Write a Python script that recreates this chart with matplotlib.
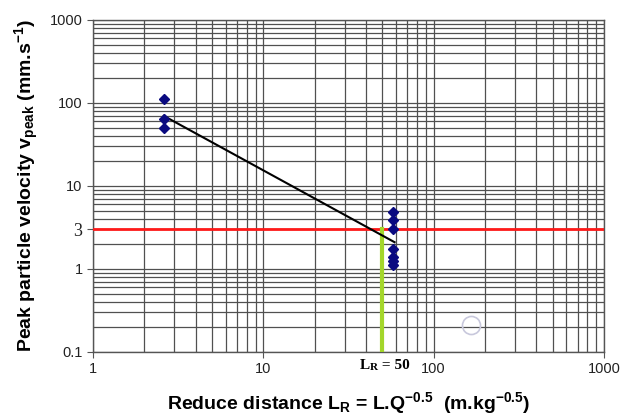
from matplotlib import pyplot as plt
from matplotlib.ticker import FixedLocator, NullFormatter, LogLocator
import numpy as np

plt.rcParams['mathtext.fontset'] = 'custom'
plt.rcParams['mathtext.rm'] = 'Liberation Sans:bold'
plt.rcParams['mathtext.bf'] = 'Liberation Sans:bold'
plt.rcParams['mathtext.it'] = 'Liberation Sans:bold'

near_x = [2.6, 2.6, 2.6]
near_y = [112, 64, 50]
far_x = [58, 58, 58, 58, 58, 58, 58]
far_y = [4.8, 3.9, 3.0, 1.75, 1.4, 1.25, 1.12]

# fitted line end points
fit_x = [2.6, 59]
fit_y = [70, 2.1]

v_limit = 3
lr_limit = 50

y_ticks = [0.1, 1, 3, 10, 100, 1000]
y_labels = ['0.1', '1', '3', '10', '100', '1000']
x_ticks = [1, 10, 100, 1000]
x_labels = ['1', '10', '100', '1000']

fig = plt.figure(figsize=(6.2, 4.16), dpi=100)
ax = fig.add_axes([0.15, 0.154, 0.824, 0.798])
ax.set_xscale('log')
ax.set_yscale('log')
ax.set_xlim(1, 1000)
ax.set_ylim(0.1, 1000)

ax.xaxis.set_minor_locator(LogLocator(base=10, subs=np.arange(2, 10)))
ax.yaxis.set_minor_locator(LogLocator(base=10, subs=np.arange(2, 10)))
ax.xaxis.set_minor_formatter(NullFormatter())
ax.yaxis.set_minor_formatter(NullFormatter())
ax.grid(True, which='both', color='#505050', lw=0.9)
ax.set_axisbelow(True)

ax.yaxis.set_major_locator(FixedLocator(y_ticks))
ax.set_yticklabels(y_labels)
ax.xaxis.set_major_locator(FixedLocator(x_ticks))
ax.set_xticklabels(x_labels)
ax.tick_params(which='minor', length=0)
ax.tick_params(which='major', length=4, color='#555555', labelsize=10.5,
               labelcolor='#222222', direction='out')
for lab in ax.get_xticklabels() + ax.get_yticklabels():
    lab.set_fontfamily('Liberation Sans')
    if lab.get_text() == '3':
        lab.set_fontfamily('Liberation Serif')
        lab.set_fontsize(13)
for s in ax.spines.values():
    s.set_color('#555555')
    s.set_linewidth(1)

ax.axhline(v_limit, color='#ff1a1a', lw=2, zorder=3)
ax.plot([lr_limit, lr_limit], [0.1, v_limit], color='#a3d62a', lw=3, zorder=3)
ax.plot(fit_x, fit_y, color='black', lw=1.5, zorder=4)
ax.plot(near_x, near_y, 'D', color='#0a0a80', ms=5, zorder=5)
ax.plot(far_x, far_y, 'D', color='#0a0a80', ms=5, zorder=5)
# faint artefact circle in the original picture
ax.plot([165], [0.21], 'o', mfc='none', mec='#c8c8dc', ms=13, mew=1.2, zorder=5)

# "LR = 50" label with a small capital R
t1 = ax.text(37, 0.083, 'L', family='Liberation Serif', fontweight='bold',
             fontsize=11, ha='left', va='top')
t2 = ax.annotate('R', xy=(1, 0), xycoords=t1, family='Liberation Serif',
                 fontweight='bold', fontsize=8, ha='left', va='bottom')
ax.annotate(' = 50', xy=(1, 0), xycoords=t2, family='Liberation Serif',
            fontweight='bold', fontsize=11, ha='left', va='bottom')

ax.set_ylabel(r'Peak particle velocity v$_{\mathrm{peak}}$ (mm.s$^{\mathrm{-1}}$)',
              fontsize=14, fontweight='bold', family='Liberation Sans', labelpad=6)
ax.set_xlabel(r'Reduce distance L$_{\mathrm{R}}$ = L.Q$^{\mathrm{-0.5}}$  (m.kg$^{\mathrm{-0.5}}$)',
              fontsize=14, fontweight='bold', family='Liberation Sans', labelpad=10)

fig.savefig('out.png', dpi=100)
